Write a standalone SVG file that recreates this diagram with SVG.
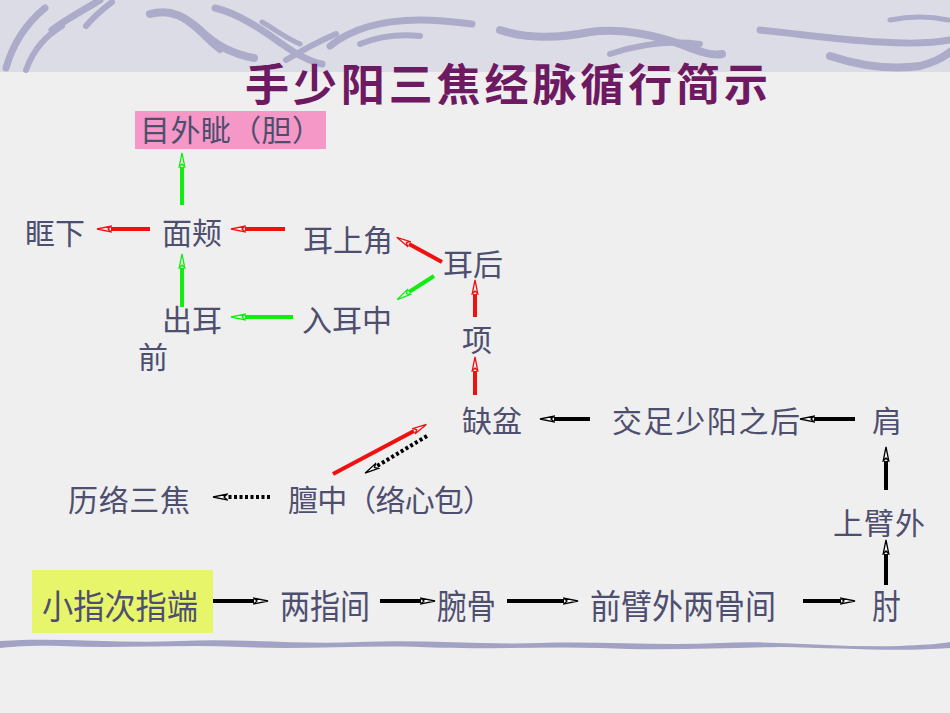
<svg xmlns="http://www.w3.org/2000/svg" width="950" height="713" viewBox="0 0 950 713">
<defs>
<style>
.t{font-family:"Noto Sans CJK SC","Noto Sans",sans-serif;font-size:30px;fill:#4e4e6e}
.b{font-family:"Noto Sans CJK SC","Noto Sans",sans-serif;font-size:34px;fill:#4e4e6e}
.title{font-family:"Noto Sans CJK SC","Noto Sans",sans-serif;font-size:44px;font-weight:bold;fill:#6e1a62}
.r{stroke:#f01010;stroke-width:4;fill:none}
.g{stroke:#10ee10;stroke-width:4;fill:none}
.k{stroke:#000;stroke-width:4;fill:none}
.kd{stroke:#000;stroke-width:4;fill:none;stroke-dasharray:3 2.5}
.sw{fill:none;stroke:#acacca;stroke-linecap:round}
</style>
<marker id="ar" markerUnits="userSpaceOnUse" markerWidth="16" markerHeight="10" refX="1" refY="3.5" orient="auto" viewBox="0 0 16 7">
<path d="M1,0.7 L15,3.5 L1,6.3 L4,3.5 Z" fill="#fff5f5" stroke="#f01010" stroke-width="1.3"/>
</marker>
<marker id="ag" markerUnits="userSpaceOnUse" markerWidth="16" markerHeight="10" refX="1" refY="3.5" orient="auto" viewBox="0 0 16 7">
<path d="M1,0.7 L15,3.5 L1,6.3 L4,3.5 Z" fill="#f5fff5" stroke="#10ee10" stroke-width="1.3"/>
</marker>
<marker id="ak" markerUnits="userSpaceOnUse" markerWidth="16" markerHeight="10" refX="1" refY="3.5" orient="auto" viewBox="0 0 16 7">
<path d="M1,0.7 L15,3.5 L1,6.3 L4,3.5 Z" fill="#fff" stroke="#000" stroke-width="1.3"/>
</marker>
</defs>
<rect x="0" y="0" width="950" height="713" fill="#efeff0"/>
<rect x="0" y="0" width="950" height="72" fill="#dcdce6"/>
<g id="decor">
<path class="sw" stroke-width="7" d="M6,68 C14,40 28,22 45,8"/>
<path class="sw" stroke-width="6" d="M26,70 C34,48 46,36 62,26"/>
<path class="sw" stroke-width="7" d="M52,30 C68,18 84,10 100,0"/>
<path class="sw" stroke-width="6" d="M86,26 C96,14 104,8 112,2"/>
<path class="sw" stroke-width="8" d="M150,14 C172,8 186,18 200,30 C214,44 232,54 254,58"/>
<path class="sw" stroke-width="6" d="M188,22 C200,30 208,42 220,50"/>
<path class="sw" stroke-width="7" d="M215,8 C240,14 262,30 282,44 C296,54 312,62 322,64"/>
<path class="sw" stroke-width="5" d="M262,22 C276,30 286,38 300,44"/>
<path class="sw" stroke-width="6" d="M286,60 C306,48 322,40 336,34"/>
<path class="sw" stroke-width="7" d="M330,46 C350,30 380,20 420,20 C440,20 456,22 472,24"/>
<path class="sw" stroke-width="6" d="M360,44 C380,36 400,34 420,36"/>
<path class="sw" stroke-width="8" d="M500,30 C530,40 560,38 590,32 C620,28 650,34 680,44 C700,52 712,56 722,54"/>
<path class="sw" stroke-width="6" d="M610,54 C640,44 668,40 700,44"/>
<path class="sw" stroke-width="7" d="M760,30 C800,34 840,40 880,42 C910,44 930,44 950,40"/>
<path class="sw" stroke-width="8" d="M830,56 C860,66 890,70 920,66 C935,62 945,56 950,52"/>
<path class="sw" stroke-width="5" d="M890,20 C910,16 930,16 948,20"/>
<path fill="#a2a2c4" d="M0,641 C60,637 120,644 180,641 C240,638 300,645 360,642 C420,639 480,645 540,643 C600,641 660,646 720,643 C780,640 840,648 900,646 C920,645 940,644 950,642 L950,648 C900,652 840,648 780,647 C720,648 660,651 600,648 C540,646 480,650 420,647 C360,645 300,650 240,647 C180,644 120,649 60,646 C30,645 10,647 0,648 Z"/>
</g>
<g id="title"><text class="title" x="245" y="101" textLength="523" lengthAdjust="spacing">手少阳三焦经脉循行简示</text></g>
<g id="n-mwz"><rect x="135" y="111" width="191" height="38" fill="#f598c8"/><text class="t" x="140" y="141" textLength="182" lengthAdjust="spacing">目外眦（胆）</text></g>
<g id="n-kx"><text class="t" x="25" y="244">眶下</text></g>
<g id="n-mj"><text class="t" x="162" y="244">面颊</text></g>
<g id="n-esj"><text class="t" x="303" y="251">耳上角</text></g>
<g id="n-eh"><text class="t" x="443" y="275">耳后</text></g>
<g id="n-ceq"><text class="t" x="162" y="331">出耳</text><text class="t" x="138" y="368">前</text></g>
<g id="n-rez"><text class="t" x="302" y="331">入耳中</text></g>
<g id="n-x"><text class="t" x="462" y="351">项</text></g>
<g id="n-qp"><text class="t" x="462" y="432">缺盆</text></g>
<g id="n-jzsy"><text class="t" x="612" y="432" textLength="188" lengthAdjust="spacing">交足少阳之后</text></g>
<g id="n-j"><text class="t" x="872" y="432">肩</text></g>
<g id="n-llsj"><text class="t" x="68" y="511" textLength="122" lengthAdjust="spacing">历络三焦</text></g>
<g id="n-dz"><text class="t" x="288" y="511" textLength="205" lengthAdjust="spacing">膻中（络心包）</text></g>
<g id="n-sbw"><text class="t" x="833" y="534" textLength="92" lengthAdjust="spacing">上臂外</text></g>
<g id="n-xzcz"><rect x="32" y="570" width="181" height="63" fill="#e6f56a"/><text class="b" x="42" y="619" textLength="156" lengthAdjust="spacingAndGlyphs">小指次指端</text></g>
<g id="n-lzj"><text class="b" x="280" y="619" textLength="90" lengthAdjust="spacingAndGlyphs">两指间</text></g>
<g id="n-wg"><text class="b" x="437" y="619" textLength="59" lengthAdjust="spacingAndGlyphs">腕骨</text></g>
<g id="n-qbw"><text class="b" x="590" y="619" textLength="186" lengthAdjust="spacingAndGlyphs">前臂外两骨间</text></g>
<g id="n-z"><text class="b" x="872" y="619" textLength="29" lengthAdjust="spacingAndGlyphs">肘</text></g>
<g id="connectors">
<line class="g" x1="182" y1="205" x2="182" y2="167" marker-end="url(#ag)"/>
<line class="r" x1="150" y1="229" x2="111" y2="229" marker-end="url(#ar)"/>
<line class="r" x1="285" y1="229" x2="245" y2="229" marker-end="url(#ar)"/>
<line class="r" x1="442" y1="262" x2="409" y2="244" marker-end="url(#ar)"/>
<line class="g" x1="434" y1="276" x2="409" y2="292" marker-end="url(#ag)"/>
<line class="r" x1="475" y1="317" x2="475" y2="294" marker-end="url(#ar)"/>
<line class="r" x1="475" y1="395" x2="475" y2="371" marker-end="url(#ar)"/>
<line class="g" x1="182" y1="307" x2="182" y2="268" marker-end="url(#ag)"/>
<line class="g" x1="293" y1="317" x2="245" y2="317" marker-end="url(#ag)"/>
<line class="r" x1="333" y1="474" x2="414" y2="431" marker-end="url(#ar)"/>
<line class="kd" x1="427" y1="436" x2="377" y2="466" marker-end="url(#ak)"/>
<line class="kd" x1="270" y1="497" x2="227" y2="497" marker-end="url(#ak)"/>
<line class="k" x1="590" y1="419" x2="554" y2="419" marker-end="url(#ak)"/>
<line class="k" x1="855" y1="419" x2="814" y2="419" marker-end="url(#ak)"/>
<line class="k" x1="886" y1="490" x2="886" y2="461" marker-end="url(#ak)"/>
<line class="k" x1="886" y1="585" x2="886" y2="554" marker-end="url(#ak)"/>
<line class="k" x1="213" y1="601" x2="254" y2="601" marker-end="url(#ak)"/>
<line class="k" x1="380" y1="601" x2="421" y2="601" marker-end="url(#ak)"/>
<line class="k" x1="507" y1="601" x2="564" y2="601" marker-end="url(#ak)"/>
<line class="k" x1="803" y1="601" x2="841" y2="601" marker-end="url(#ak)"/>
</g>
</svg>
